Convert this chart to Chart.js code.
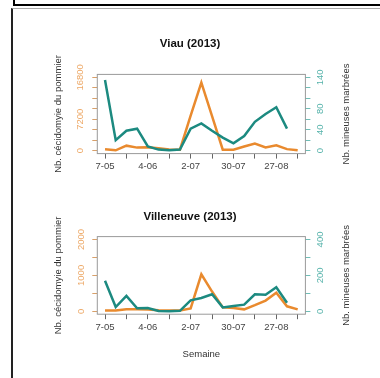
<!DOCTYPE html>
<html>
<head>
<meta charset="utf-8">
<script src="https://cdn.jsdelivr.net/npm/chart.js@4.4.0/dist/chart.umd.min.js"></script>
<style>
body { margin:0; background:#fff; width:380px; height:378px; overflow:hidden; position:relative; }
.frameTop { position:absolute; left:13px; top:-10px; width:400px; height:14px; border-left:2px solid #000; border-bottom:2px solid #000; }
.frame { position:absolute; left:11px; top:8px; width:400px; height:400px; border-top:1px solid #aaa; border-left:2px solid #222; }
#viau { position:absolute; left:0; top:0; }
#villeneuve { position:absolute; left:0; top:190px; }
</style>
</head>
<body>
<div class="frameTop"></div>
<div class="frame"></div>
<canvas id="viau" width="380" height="190"></canvas>
<canvas id="villeneuve" width="380" height="188"></canvas>
<script>
// weekly counts, 7 May -> 10 Sept 2013
var weeks = ["7-05","14-05","21-05","28-05","4-06","11-06","18-06","25-06","2-07","9-07",
             "16-07","23-07","30-07","6-08","13-08","20-08","27-08","3-09","10-09"];
var xTicks = [0, 2, 4, 6, 8, 10, 12, 14, 16, 18];
var xLabelled = [0, 4, 8, 12, 16];

// Viau
var viauCecido   = [300, 80, 1150, 700, 800, 550, 260, 230, 8000, 15600, 7900, 230, 230, 950, 1650, 750, 1250, 350, 80];
var viauMineuses = [135, 20, 38, 42, 8, 2, 1, 2, 42, 52, 38, 25, 14, 28, 55, 70, 83, 42, null];
var viauLeftTicks   = [0, 2400, 4800, 7200, 9600, 12000, 14400, 16800];
var viauLeftLabels  = [0, 7200, 16800];
var viauRightTicks  = [0, 20, 40, 60, 80, 100, 120, 140];
var viauRightLabels = [0, 40, 80, 140];

// Villeneuve
var villCecido   = [20, 20, 55, 60, 50, 30, 25, 25, 80, 1030, 550, 110, 90, 55, 170, 300, 520, 140, 55];
var villMineuses = [170, 24, 86, 17, 18, 2, 1, 3, 61, 74, 95, 22, 30, 37, 95, 92, 134, 48, null];
var villLeftTicks   = [0, 500, 1000, 1500, 2000];
var villLeftLabels  = [0, 1000, 2000];
var villRightTicks  = [0, 100, 200, 300, 400];
var villRightLabels = [0, 200, 400];

var orange = '#E98A2E';
var teal = '#1C8A80';
Chart.defaults.font.family = "'Liberation Sans', Arial, Helvetica, sans-serif";

var boxPlugin = {
  id: 'rbox',
  beforeDatasetsDraw: function(chart) {
    var a = chart.chartArea, ctx = chart.ctx;
    ctx.save();
    ctx.strokeStyle = '#9a9a9a';
    ctx.lineWidth = 1;
    ctx.strokeRect(a.left, a.top, a.right - a.left, a.bottom - a.top);
    ctx.restore();
  }
};

// right axis title reads bottom-to-top like R's side 4
var rightTitlePlugin = {
  id: 'rightTitle',
  afterDraw: function(chart, args, opts) {
    var a = chart.chartArea, ctx = chart.ctx;
    ctx.save();
    ctx.translate(opts.x, (a.top + a.bottom) / 2);
    ctx.rotate(-Math.PI / 2);
    ctx.textAlign = 'center';
    ctx.textBaseline = 'middle';
    ctx.fillStyle = '#333';
    ctx.font = '9.5px ' + Chart.defaults.font.family;
    ctx.fillText(opts.text, 0, 0);
    ctx.restore();
  }
};

function points(vals) {
  var out = [];
  vals.forEach(function(v, i) { if (v !== null) out.push({x: i, y: v}); });
  return out;
}

function makeChart(id, c) {
  var lMax = c.leftTicks[c.leftTicks.length - 1];
  var rMax = c.rightTicks[c.rightTicks.length - 1];
  return new Chart(document.getElementById(id), {
    type: 'line',
    data: {
      datasets: [{
        data: points(c.mineuses),
        yAxisID: 'y1',
        borderColor: teal,
        borderWidth: 2.5,
        pointRadius: 0,
        tension: 0
      }, {
        data: points(c.cecido),
        yAxisID: 'y',
        borderColor: orange,
        borderWidth: 2.5,
        pointRadius: 0,
        tension: 0
      }]
    },
    options: {
      responsive: false,
      animation: false,
      devicePixelRatio: 1,
      layout: { padding: 0 },
      plugins: {
        legend: { display: false },
        tooltip: { enabled: false },
        title: {
          display: true,
          text: c.title,
          color: '#111',
          font: { size: 11.5, weight: 'bold' },
          padding: { top: c.titleTop, bottom: c.titleBottom }
        },
        rightTitle: { text: 'Nb. mineuses marbrées', x: 346 }
      },
      scales: {
        x: {
          type: 'linear',
          min: -0.72,
          max: 18.72,
          afterBuildTicks: function(s) { s.ticks = xTicks.map(function(v) { return {value: v}; }); },
          afterFit: function(s) { s.height = c.xHeight; },
          ticks: {
            autoSkip: false,
            maxRotation: 0,
            color: '#444',
            font: { size: 9.5 },
            padding: 2,
            callback: function(v) { return xLabelled.indexOf(v) >= 0 ? weeks[v] : ''; }
          },
          grid: { drawOnChartArea: false, tickLength: 5, color: '#666' },
          border: { display: false },
          title: {
            display: c.xTitle,
            text: 'Semaine',
            color: '#333',
            font: { size: 9.5 },
            padding: { top: 0, bottom: 18.3 }
          }
        },
        y: {
          position: 'left',
          min: -0.04 * lMax,
          max: 1.04 * lMax,
          afterBuildTicks: function(s) { s.ticks = c.leftTicks.map(function(v) { return {value: v}; }); },
          afterFit: function(s) { s.width = 97.3; },
          ticks: {
            autoSkip: false,
            minRotation: 90,
            maxRotation: 90,
            crossAlign: 'center',
            padding: c.leftPad,
            color: '#EDA866',
            font: { size: 9.5 },
            callback: function(v) { return c.leftLabels.indexOf(v) >= 0 ? String(v) : ''; }
          },
          grid: { drawOnChartArea: false, tickLength: 5, color: '#D8A06A' },
          border: { display: false },
          title: {
            display: true,
            text: 'Nb. cécidomyie du pommier',
            color: '#333',
            font: { size: 9.5 },
            padding: { top: 52.3, bottom: 0 }
          }
        },
        y1: {
          position: 'right',
          min: -0.04 * rMax,
          max: 1.04 * rMax,
          afterBuildTicks: function(s) { s.ticks = c.rightTicks.map(function(v) { return {value: v}; }); },
          afterFit: function(s) { s.width = 74.6; },
          ticks: {
            autoSkip: false,
            minRotation: 90,
            maxRotation: 90,
            crossAlign: 'center',
            padding: 1.7,
            color: '#55B2AA',
            font: { size: 9.5 },
            callback: function(v) { return c.rightLabels.indexOf(v) >= 0 ? String(v) : ''; }
          },
          grid: { drawOnChartArea: false, tickLength: 5, color: '#6FBDB6' },
          border: { display: false }
        }
      }
    },
    plugins: [boxPlugin, rightTitlePlugin]
  });
}

makeChart('viau', {
  title: 'Viau (2013)',
  cecido: viauCecido, mineuses: viauMineuses,
  leftTicks: viauLeftTicks, leftLabels: viauLeftLabels,
  rightTicks: viauRightTicks, rightLabels: viauRightLabels,
  titleTop: 37.4, titleBottom: 23.2, xHeight: 36.4, leftPad: -0.9, xTitle: false
});

makeChart('villeneuve', {
  title: 'Villeneuve (2013)',
  cecido: villCecido, mineuses: villMineuses,
  leftTicks: villLeftTicks, leftLabels: villLeftLabels,
  rightTicks: villRightTicks, rightLabels: villRightLabels,
  titleTop: 19.8, titleBottom: 13, xHeight: 63.8, leftPad: 0.7, xTitle: true
});
</script>
</body>
</html>
